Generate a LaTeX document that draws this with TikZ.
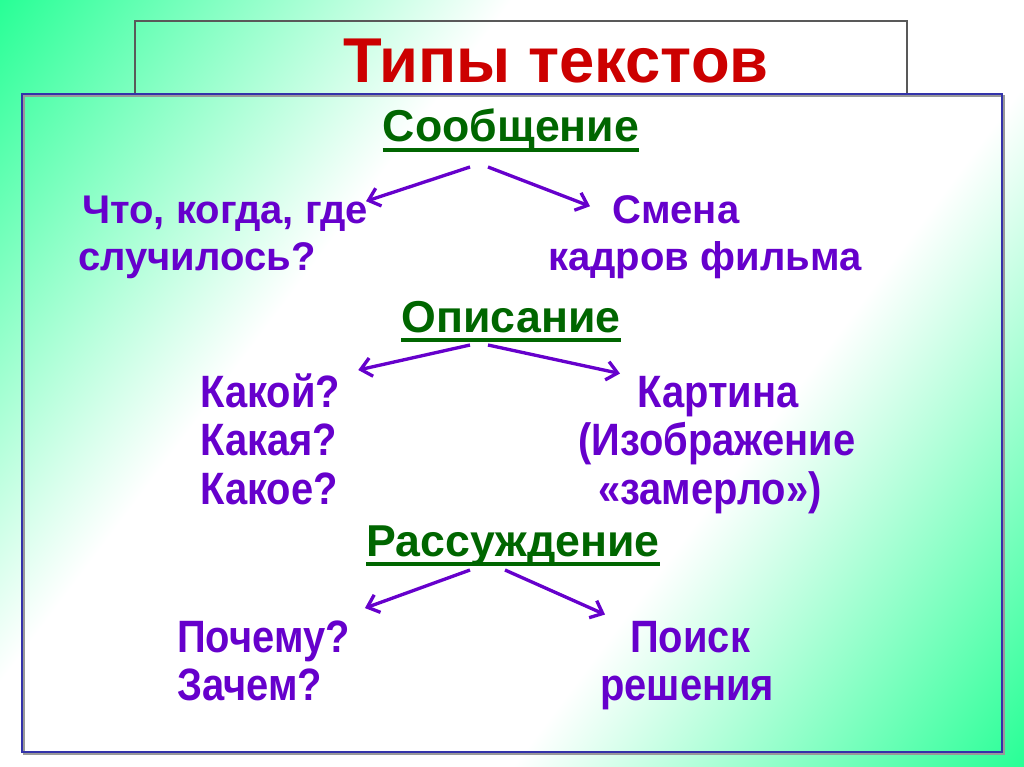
\documentclass[tikz,border=0pt]{standalone}
\usepackage{fontspec}
\setmainfont{Liberation Sans}
\newfontfamily\narrowfont[FakeStretch=0.88]{Liberation Sans}
\usetikzlibrary{arrows.meta}
\definecolor{bggreen}{RGB}{40,255,150}
\definecolor{ttlred}{RGB}{204,0,0}
\definecolor{hdgreen}{RGB}{0,102,0}
\definecolor{txtpurple}{RGB}{102,0,204}
\definecolor{boxblue}{RGB}{51,51,170}
\pgfdeclarehorizontalshading{bgdiag}{100bp}{color(0bp)=(bggreen); color(25bp)=(bggreen); color(41bp)=(white); color(59bp)=(white); color(75bp)=(bggreen); color(100bp)=(bggreen)}
\tikzset{
  heading/.style={font=\bfseries\fontsize{33.5}{33.5}\selectfont, text=hdgreen, inner sep=0pt, anchor=base},
  plain/.style={font=\bfseries\fontsize{30}{30}\selectfont, text=txtpurple, inner sep=0pt, anchor=base west},
  narrow/.style={font=\narrowfont\bfseries\fontsize{34}{34}\selectfont, text=txtpurple, inner sep=0pt, anchor=base west},
  uline/.style={hdgreen, line width=2.3pt},
  arr/.style={txtpurple, line width=2.5pt, -{Straight Barb[length=8pt,width=14pt]}}
}
\begin{document}
\begin{tikzpicture}[x=0.75pt,y=-0.75pt]
\useasboundingbox (0,0) rectangle (1024,767);
% background
\begin{scope}
\clip (0,0) rectangle (1024,767);
\shade[shading=bgdiag, transform canvas={rotate around={-36.87:(512,383.5)}}] (-127.5,-266.5) rectangle (1151.5,1033.5);
\end{scope}
% frames
\draw[black!65, line width=0.9pt] (135,21) rectangle (907,94);
\draw[black!40, line width=1.5pt] (24,96) rectangle (1004,754);
\draw[boxblue, line width=1.1pt] (22,94) rectangle (1002,752);
% title
\node[font=\bfseries\fontsize{47.5}{47.5}\selectfont, text=ttlred, inner sep=0pt, anchor=base] (title) at (556,83) {Типы текстов};
% headings
\node[heading] (soob) at (511,142) {Сообщение};
\node[heading] (opis) at (511,332) {Описание};
\node[heading] (rass) at (513,556) {Рассуждение};
\foreach \h in {soob,opis,rass}
  \draw[uline] ([yshift=-6pt]\h.base west) -- ([yshift=-6pt]\h.base east);
% first group
\node[plain] (chto) at (82,223) {Что, когда, где};
\node[plain] (slu) at (78,270) {случилось?};
\node[plain] (smena) at (612,223) {Смена};
\node[plain] (kadr) at (548,270) {кадров фильма};
% second group
\node[narrow] (kakoj) at (200,407) {Какой?};
\node[narrow] (kakaya) at (200,455) {Какая?};
\node[narrow] (kakoe) at (200,504) {Какое?};
\node[narrow] (kart) at (637,407) {Картина};
\node[narrow] (izob) at (578,455) {(Изображение};
\node[narrow] (zam) at (598,504) {«замерло»)};
% third group
\node[narrow] (poch) at (177,652) {Почему?};
\node[narrow] (zach) at (177,700) {Зачем?};
\node[narrow] (poisk) at (630,652) {Поиск};
\node[narrow] (resh) at (600,700) {решения};
% arrows
\coordinate (s1) at (470,167);
\coordinate (s2) at (488,167);
\coordinate (o1) at (470,345);
\coordinate (o2) at (488,345);
\coordinate (r1) at (470,570);
\coordinate (r2) at (505,570);
\draw[arr] (s1) -- ([shift={(-2,6)}]chto.north east);
\draw[arr] (s2) -- ([shift={(-22,-3)}]smena.west);
\draw[arr] (o1) -- ([shift={(18,-3)}]kakoj.north east);
\draw[arr] (o2) -- ([shift={(-17,-2)}]kart.north west);
\draw[arr] (r1) -- ([shift={(15,-12)}]poch.north east);
\draw[arr] (r2) -- ([shift={(-25,-6)}]poisk.north west);
\end{tikzpicture}
\end{document}
